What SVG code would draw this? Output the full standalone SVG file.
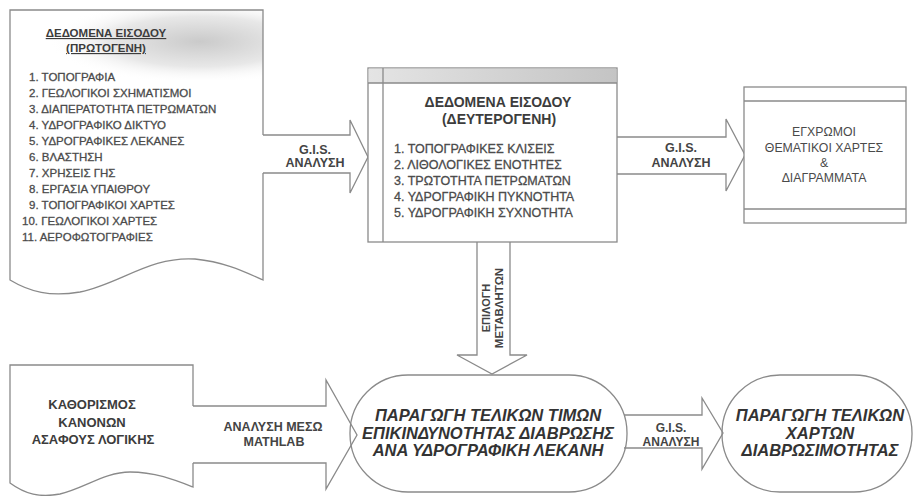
<svg xmlns="http://www.w3.org/2000/svg" width="916" height="496" viewBox="0 0 916 496">
<style>
.ln{fill:none;stroke:#8a8a8a;stroke-width:1.3}
.wf{fill:#fff;stroke:#8a8a8a;stroke-width:1.3}
text{font-family:"Liberation Sans",Arial,sans-serif;fill:#3c3c3c}
.t{font-weight:bold;text-anchor:middle}
.li{fill:#444;stroke:#555;stroke-width:0.3}
.lbl{font-weight:bold;text-anchor:middle;fill:#444}
.bi{font-weight:bold;font-style:italic;font-size:16.5px;text-anchor:middle;fill:#333}
.rt{font-size:12.3px;text-anchor:middle;fill:#4a4a4a}
</style>
<defs>
<linearGradient id="hdr" x1="0" y1="0" x2="1" y2="0">
<stop offset="0" stop-color="#e4e4e4"/><stop offset="0.5" stop-color="#d4d4d4"/><stop offset="1" stop-color="#c4c4c4"/>
</linearGradient>
<radialGradient id="smudge" cx="0.75" cy="0.45" r="0.6">
<stop offset="0" stop-color="#bdbdbd"/><stop offset="0.6" stop-color="#e2e2e2"/><stop offset="1" stop-color="#fff" stop-opacity="0"/>
</radialGradient>
</defs>
<rect width="916" height="496" fill="#fff"/>

<g id="connectors">
<path class="ln" d="M263,135 H350 V120 L368,157 L350,193 V173 H263"/>
<text class="lbl" x="315" y="154" style="font-size:12.5px">G.I.S.</text>
<text class="lbl" x="315" y="167" style="font-size:12.5px">ΑΝΑΛΥΣΗ</text>
<path class="ln" d="M617,137 H726 V119 L745,155 L726,191 V174 H617"/>
<text class="lbl" x="681" y="152" style="font-size:12.5px">G.I.S.</text>
<text class="lbl" x="681" y="167" style="font-size:12.5px">ΑΝΑΛΥΣΗ</text>
<path class="ln" d="M477,242 V355 H457 L492,374 L527,355 H510 V242"/>
<text class="lbl" style="font-size:11px" transform="translate(490,308) rotate(-90)">ΕΠΙΛΟΓΗ</text>
<text class="lbl" style="font-size:11.5px" transform="translate(503,308) rotate(-90)">ΜΕΤΑΒΛΗΤΩΝ</text>
<path class="ln" d="M193,406 H326 V380 L357,435 L326,489 V463 H193"/>
<text class="lbl" x="273" y="431" style="font-size:12.5px">ΑΝΑΛΥΣΗ ΜΕΣΩ</text>
<text class="lbl" x="274" y="446" style="font-size:12.5px">MATHLAB</text>
<path class="ln" d="M624,415 H702 V398 L723,433 L702,469 V448 H624"/>
<text class="lbl" x="671" y="432" style="font-size:12px">G.I.S.</text>
<text class="lbl" x="671" y="446" style="font-size:12px">ΑΝΑΛΥΣΗ</text>
</g>

<g id="primary-input">
<path d="M10,10 H263 V80 H10 Z" fill="url(#smudge)" opacity="0.8"/>
<path class="ln" d="M263,135 V10 H10 V280 C30,292 50,297 80,292 C120,284 150,256 195,259 C225,262 245,272 263,280 V173"/>
<text class="t" x="106" y="37" style="font-size:11.5px" text-decoration="underline">ΔΕΔΟΜΕΝΑ ΕΙΣΟΔΟΥ</text>
<text class="t" x="106" y="52" style="font-size:11.5px" text-decoration="underline">(ΠΡΩΤΟΓΕΝΗ)</text>
<g style="font-size:11.5px">
<text class="li" x="29" y="81">1. ΤΟΠΟΓΡΑΦΙΑ</text>
<text class="li" x="29" y="97">2. ΓΕΩΛΟΓΙΚΟΙ ΣΧΗΜΑΤΙΣΜΟΙ</text>
<text class="li" x="29" y="113">3. ΔΙΑΠΕΡΑΤΟΤΗΤΑ ΠΕΤΡΩΜΑΤΩΝ</text>
<text class="li" x="29" y="129">4. ΥΔΡΟΓΡΑΦΙΚΟ ΔΙΚΤΥΟ</text>
<text class="li" x="29" y="145">5. ΥΔΡΟΓΡΑΦΙΚΕΣ ΛΕΚΑΝΕΣ</text>
<text class="li" x="29" y="161">6. ΒΛΑΣΤΗΣΗ</text>
<text class="li" x="29" y="177">7. ΧΡΗΣΕΙΣ ΓΗΣ</text>
<text class="li" x="29" y="193">8. ΕΡΓΑΣΙΑ ΥΠΑΙΘΡΟΥ</text>
<text class="li" x="29" y="209">9. ΤΟΠΟΓΡΑΦΙΚΟΙ ΧΑΡΤΕΣ</text>
<text class="li" x="22" y="225">10. ΓΕΩΛΟΓΙΚΟΙ ΧΑΡΤΕΣ</text>
<text class="li" x="22" y="241">11. ΑΕΡΟΦΩΤΟΓΡΑΦΙΕΣ</text>
</g>
</g>

<g id="secondary-input">
<rect class="wf" x="368" y="68" width="249" height="174"/>
<rect x="368.6" y="68.6" width="247.8" height="14.4" fill="url(#hdr)"/>
<path class="ln" d="M368,83 H617 M383,68 V242"/>
<text class="t" x="498" y="107" style="font-size:14px">ΔΕΔΟΜΕΝΑ ΕΙΣΟΔΟΥ</text>
<text class="t" x="499" y="124" style="font-size:14px">(ΔΕΥΤΕΡΟΓΕΝΗ)</text>
<g style="font-size:12.5px">
<text class="li" x="394" y="153">1. ΤΟΠΟΓΡΑΦΙΚΕΣ ΚΛΙΣΕΙΣ</text>
<text class="li" x="394" y="169">2. ΛΙΘΟΛΟΓΙΚΕΣ ΕΝΟΤΗΤΕΣ</text>
<text class="li" x="394" y="185">3. ΤΡΩΤΟΤΗΤΑ ΠΕΤΡΩΜΑΤΩΝ</text>
<text class="li" x="394" y="201">4. ΥΔΡΟΓΡΑΦΙΚΗ ΠΥΚΝΟΤΗΤΑ</text>
<text class="li" x="394" y="217">5. ΥΔΡΟΓΡΑΦΙΚΗ ΣΥΧΝΟΤΗΤΑ</text>
</g>
</g>

<g id="thematic-maps">
<rect class="wf" x="744" y="87" width="162" height="136"/>
<path class="ln" d="M744,101 H906 M744,209 H906"/>
<text class="rt" x="824" y="136">ΕΓΧΡΩΜΟΙ</text>
<text class="rt" x="824" y="152">ΘΕΜΑΤΙΚΟΙ ΧΑΡΤΕΣ</text>
<text class="rt" x="824" y="167">&amp;</text>
<text class="rt" x="824" y="182">ΔΙΑΓΡΑΜΜΑΤΑ</text>
</g>

<g id="fuzzy-rules">
<path class="ln" d="M193,406 V365 H10 V483 C25,494 40,498 60,494 C85,488 105,472 130,472 C155,472 175,480 193,487 V463"/>
<text class="t" x="92" y="409" style="font-size:13px">ΚΑΘΟΡΙΣΜΟΣ</text>
<text class="t" x="92" y="427" style="font-size:13px">ΚΑΝΟΝΩΝ</text>
<text class="t" x="93" y="444" style="font-size:13px">ΑΣΑΦΟΥΣ ΛΟΓΙΚΗΣ</text>
</g>

<g id="risk-values">
<rect class="ln" x="350" y="375" width="277" height="117" rx="58" ry="58"/>
<text class="bi" x="488" y="421">ΠΑΡΑΓΩΓΗ ΤΕΛΙΚΩΝ ΤΙΜΩΝ</text>
<text class="bi" x="488" y="438.5">ΕΠΙΚΙΝΔΥΝΟΤΗΤΑΣ ΔΙΑΒΡΩΣΗΣ</text>
<text class="bi" x="488" y="456">ΑΝΑ ΥΔΡΟΓΡΑΦΙΚΗ ΛΕΚΑΝΗ</text>
</g>

<g id="final-maps">
<rect class="ln" x="722" y="375" width="190" height="117" rx="58" ry="58"/>
<text class="bi" x="820" y="421">ΠΑΡΑΓΩΓΗ ΤΕΛΙΚΩΝ</text>
<text class="bi" x="820" y="438.5">ΧΑΡΤΩΝ</text>
<text class="bi" x="820" y="456">ΔΙΑΒΡΩΣΙΜΟΤΗΤΑΣ</text>
</g>
</svg>
